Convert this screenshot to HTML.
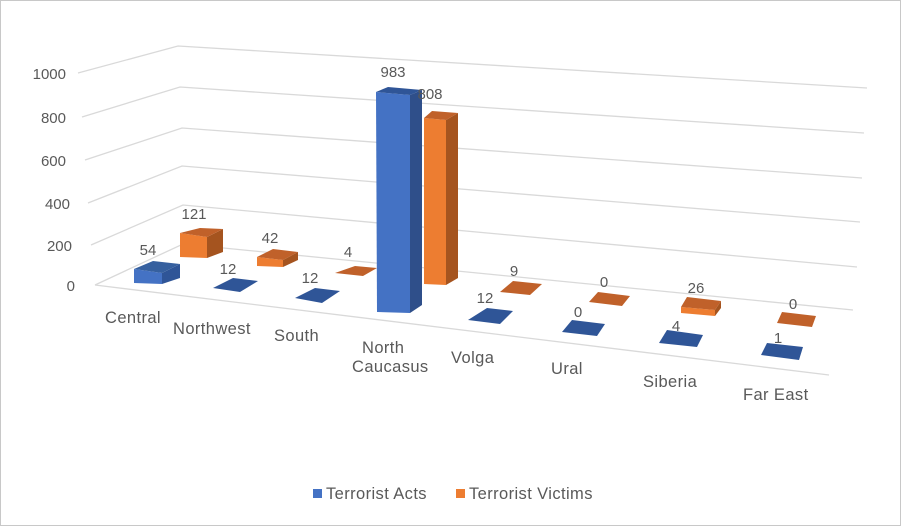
<!DOCTYPE html>
<html><head><style>
body{margin:0;background:#fff}
svg{display:block;font-family:"Liberation Sans",sans-serif}
text{fill:#595959;font-size:15px}
.w{font-size:16.5px;letter-spacing:0.4px}
</style></head><body>
<svg width="901" height="526" viewBox="0 0 901 526">
<rect x="0.5" y="0.5" width="900" height="525" fill="#fff" stroke="#c8c8c8"/>
<g stroke="#d9d9d9" stroke-width="1.3" fill="none">
<polyline points="78,73 178,46 867,88"/>
<polyline points="82,117 180,87 864,133"/>
<polyline points="85,160 182,128 862,178"/>
<polyline points="88,203 182,166 860,222"/>
<polyline points="91,245 183,205 857,267"/>
<polyline points="95,285 183,244 853,310"/>
<polyline points="95,285 829,375"/>
</g>
<g font-size="15" text-anchor="end">
<text x="66" y="79">1000</text><text x="66" y="123">800</text><text x="66" y="166">600</text>
<text x="70" y="209">400</text><text x="72" y="251">200</text><text x="75" y="291">0</text>
</g>
<polygon points="134,269 162,273 162,284 134,283" fill="#4472c4"/>
<polygon points="162,273 180,264 180,278 162,284" fill="#2f5597"/>
<polygon points="134,269 153,261 180,264 162,273" fill="#36609f"/>
<polygon points="180,233 207,237 207,258 180,257" fill="#ed7d31"/>
<polygon points="207,237 223,229 223,252 207,258" fill="#a5541f"/>
<polygon points="180,233 200,228 223,229 207,237" fill="#c0612a"/>
<polygon points="213,288 233,278 258,281 240,292" fill="#2f5597"/>
<polygon points="257,257 283,260 283,267 257,266" fill="#ed7d31"/>
<polygon points="283,260 298,252 298,260 283,267" fill="#a5541f"/>
<polygon points="257,257 273,249 298,252 283,260" fill="#c0612a"/>
<polygon points="295,298 315,288 340,291 322,303" fill="#2f5597"/>
<polygon points="335,273 355,266 377,268 363,276" fill="#c0612a"/>
<polygon points="424,118 446,120 446,285 424,284" fill="#ed7d31"/>
<polygon points="446,120 458,113 458,278 446,285" fill="#a5541f"/>
<polygon points="424,118 432,111 458,113 446,120" fill="#c0612a"/>
<polygon points="376,92 410,95 410,313 377,312" fill="#4472c4"/>
<polygon points="410,95 422,90 422,305 410,313" fill="#2f4f8a"/>
<polygon points="376,92 388,87 422,90 410,95" fill="#2f5597"/>
<polygon points="468,320 487,308 513,311 500,324" fill="#2f5597"/>
<polygon points="500,292 513,281 542,284 530,295" fill="#c0612a"/>
<polygon points="562,332 572,320 605,324 597,336" fill="#2f5597"/>
<polygon points="589,302 598,292 630,296 622,306" fill="#c0612a"/>
<polygon points="659,343 667,330 703,335 697,347" fill="#2f5597"/>
<polygon points="681,307 715,310 715,316 681,313" fill="#ed7d31"/>
<polygon points="715,310 721,301 721,308 715,316" fill="#a5541f"/>
<polygon points="681,307 687,297 721,301 715,310" fill="#c0612a"/>
<polygon points="761,355 767,343 803,347 799,360" fill="#2f5597"/>
<polygon points="777,323 782,312 816,316 812,327" fill="#c0612a"/>
<g font-size="15" text-anchor="middle">
<text x="148" y="255">54</text><text x="194" y="219">121</text>
<text x="228" y="274">12</text><text x="270" y="243">42</text>
<text x="310" y="283">12</text><text x="348" y="257">4</text>
<text x="393" y="77">983</text><text x="430" y="99">808</text>
<text x="485" y="303">12</text><text x="514" y="276">9</text>
<text x="578" y="317">0</text><text x="604" y="287">0</text>
<text x="676" y="331">4</text><text x="696" y="293">26</text>
<text x="778" y="343">1</text><text x="793" y="309">0</text>
</g>
<g class="w">
<text class="w" x="105" y="323">Central</text>
<text class="w" x="173" y="334">Northwest</text>
<text class="w" x="274" y="341">South</text>
<text class="w" x="362" y="353">North</text><text class="w" x="352" y="372">Caucasus</text>
<text class="w" x="451" y="363">Volga</text>
<text class="w" x="551" y="374">Ural</text>
<text class="w" x="643" y="387">Siberia</text>
<text class="w" x="743" y="400">Far East</text>
</g>
<rect x="313" y="489" width="9" height="9" fill="#4472c4"/>
<text class="w" x="326" y="499">Terrorist Acts</text>
<rect x="456" y="489" width="9" height="9" fill="#ed7d31"/>
<text class="w" x="469" y="499">Terrorist Victims</text>
</svg>
</body></html>
